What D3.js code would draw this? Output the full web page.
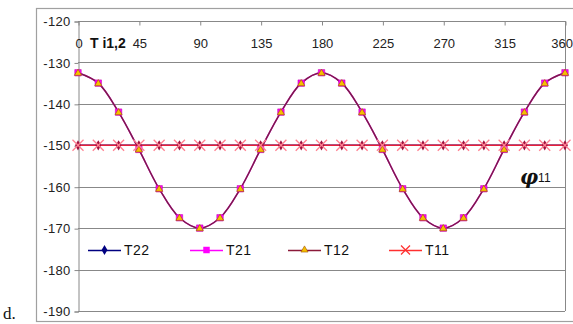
<!DOCTYPE html>
<html><head><meta charset="utf-8">
<script src="https://cdn.jsdelivr.net/npm/d3@7"></script>
<style>body{margin:0;background:#fff}svg{display:block}</style>
</head><body><svg id="c" width="573" height="324"></svg>
<script>
const angles = [0,15,30,45,60,75,90,105,120,135,150,165,180,195,210,225,240,255,270,285,300,315,330,345,360];
const curveVals = [-132.5,-135,-142,-151,-160.5,-167.5,-170,-167.5,-160.5,-151,-142,-135,-132.5,-135,-142,-151,-160.5,-167.5,-170,-167.5,-160.5,-151,-142,-135,-132.5];
const flatVals = [-150,-150,-150,-150,-150,-150,-150,-150,-150,-150,-150,-150,-150,-150,-150,-150,-150,-150,-150,-150,-150,-150,-150,-150,-150];
const T22 = flatVals;
const T21 = curveVals;
const T12 = curveVals;
const T11 = flatVals;
const xTicks = [0,45,90,135,180,225,270,315,360];
const yTicks = [-120,-130,-140,-150,-160,-170,-180,-190];
const seriesNames = ["T22","T21","T12","T11"];

const svg = d3.select("#c");
const L=78, R=565, T=21, B=311;
const x = d3.scaleLinear().domain([0,360]).range([L,R]);
const y = d3.scaleLinear().domain([-190,-120]).range([B,T]);
const font = "Arial, 'Liberation Sans', sans-serif";

// outer frame
svg.append("rect").attr("x",36.5).attr("y",8.5).attr("width",540).attr("height",313)
  .attr("fill","none").attr("stroke","#a0a0a0").attr("stroke-width",1.2);

// gridlines
svg.append("g").selectAll("line").data(yTicks).join("line")
  .attr("x1",L).attr("x2",R).attr("y1",d=>Math.round(y(d))+0.5).attr("y2",d=>Math.round(y(d))+0.5)
  .attr("stroke","#888").attr("stroke-width",1);
svg.append("line").attr("x1",R+0.5).attr("x2",R+0.5).attr("y1",T).attr("y2",B).attr("stroke","#888");

// y axis
const ya = svg.append("g").attr("transform",`translate(${L+0.5},0.5)`)
  .call(d3.axisLeft(y).tickValues(yTicks).tickSize(4).tickPadding(4).tickFormat(d=>d));
ya.select(".domain").attr("stroke","#888");
ya.selectAll(".tick line").attr("stroke","#888");
ya.selectAll("text").attr("font-family",font).attr("font-size",13).attr("letter-spacing","0.3").attr("fill","#222");

// x axis at top (inward ticks)
const xa = svg.append("g").attr("transform",`translate(0.5,${T+0.5})`)
  .call(d3.axisBottom(x).tickValues(xTicks).tickSize(4).tickPadding(13).tickFormat(d=>d));
xa.select(".domain").remove();
xa.selectAll(".tick line").attr("stroke","#888");
xa.selectAll("text").attr("font-family",font).attr("font-size",13).attr("fill","#222");
xa.selectAll(".tick").filter(d=>d===360).select("text").attr("text-anchor","end").attr("dx",7);

// lines
const smooth = d3.line().x((d,i)=>x(angles[i])).y(d=>y(d)).curve(d3.curveCatmullRom.alpha(0.5));
const g = svg.append("g");
g.append("path").attr("d",smooth(T22)).attr("fill","none").attr("stroke","#000080").attr("stroke-width",1.5);
g.append("path").attr("d",smooth(T21)).attr("fill","none").attr("stroke","#ff00ff").attr("stroke-width",1.5);
g.append("path").attr("d",smooth(T12)).attr("fill","none").attr("stroke","#7a1f4a").attr("stroke-width",1.5);
g.append("path").attr("d",smooth(T11)).attr("fill","none").attr("stroke","#e8203a").attr("stroke-width",1.5);

// markers
const diamond = d3.symbol().type(d3.symbolDiamond).size(30);
const square = d3.symbol().type(d3.symbolSquare).size(42);
const tri = d3.symbol().type(d3.symbolTriangle).size(22);
g.append("g").selectAll("path").data(T22).join("path")
  .attr("transform",(d,i)=>`translate(${x(angles[i])},${y(d)})`).attr("d",diamond).attr("fill","#a0103f");
g.append("g").selectAll("path").data(T21).join("path")
  .attr("transform",(d,i)=>`translate(${x(angles[i])},${y(d)})`).attr("d",square).attr("fill","#ff00ff").attr("stroke","#c000a0").attr("stroke-width",0.5);
g.append("g").selectAll("path").data(T12).join("path")
  .attr("transform",(d,i)=>`translate(${x(angles[i])},${y(d)+0.5})`).attr("d",tri).attr("fill","#f5c000").attr("stroke","#a05000").attr("stroke-width",0.6);
function cross(sel,cx,cy,s){
  sel.append("line").attr("x1",cx-s).attr("x2",cx+s).attr("y1",cy-s).attr("y2",cy+s);
  sel.append("line").attr("x1",cx-s).attr("x2",cx+s).attr("y1",cy+s).attr("y2",cy-s);
}
const cg = g.append("g").attr("stroke","#ff8090").attr("stroke-width",1.3);
T11.forEach((d,i)=>cross(cg,x(angles[i]),y(d),5.5));

// legend
const legX = [88,190,288,389];
const legColors = ["#000080","#ff00ff","#8b1a3a","#ff3030"];
const ly = 250;
const lg = svg.append("g");
seriesNames.forEach((n,i)=>{
  const x0 = legX[i];
  lg.append("line").attr("x1",x0).attr("x2",x0+33).attr("y1",ly+0.5).attr("y2",ly+0.5).attr("stroke",legColors[i]).attr("stroke-width",1.5);
  const mx = x0+16.5;
  if(i===0) lg.append("path").attr("transform",`translate(${mx},${ly})`).attr("d",diamond).attr("fill","#000080");
  if(i===1) lg.append("path").attr("transform",`translate(${mx},${ly})`).attr("d",square).attr("fill","#ff00ff");
  if(i===2) lg.append("path").attr("transform",`translate(${mx},${ly})`).attr("d",tri).attr("fill","#f5c000").attr("stroke","#a05000").attr("stroke-width",0.6);
  if(i===3){ const c = lg.append("g").attr("stroke","#ff3030").attr("stroke-width",1.3); cross(c,mx,ly,4.5); }
  lg.append("text").attr("x",x0+36).attr("y",ly+5).attr("font-family",font).attr("font-size",14).attr("letter-spacing","0.5").attr("fill","#111").text(n);
});

// annotations
svg.append("text").attr("x",90).attr("y",48).attr("font-family",font).attr("font-size",14).attr("font-weight","bold").attr("fill","#111").text("T i1,2");
const phi = svg.append("text").attr("x",520).attr("y",184).attr("font-family","'DejaVu Serif', 'Liberation Serif', serif").attr("fill","#111");
phi.append("tspan").attr("font-size",20).attr("font-weight","bold").attr("font-style","italic").text("φ");
phi.append("tspan").attr("font-family",font).attr("font-size",12).attr("dy",-2).text("11");
svg.append("text").attr("x",3).attr("y",319).attr("font-family","'Liberation Serif', 'Times New Roman', serif").attr("font-size",17).attr("fill","#111").text("d.");
</script></body></html>
